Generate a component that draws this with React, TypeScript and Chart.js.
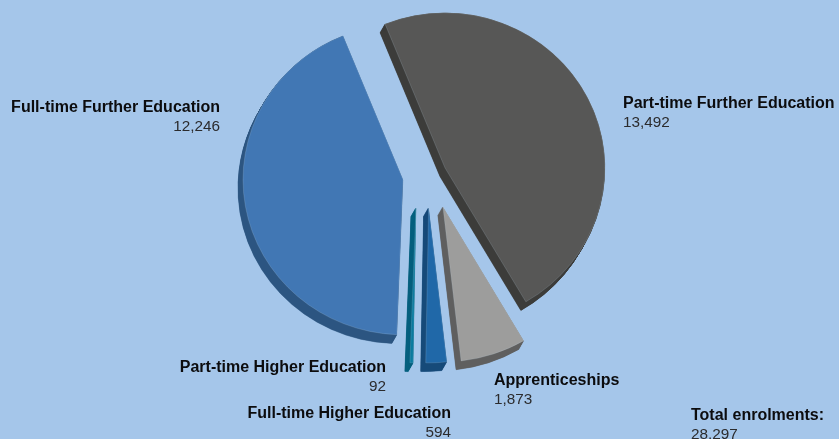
import React, { useEffect, useRef } from "react";
import { Chart, registerables } from "chart.js";

Chart.register(...registerables);

const categories = [
  "Part-time Further Education",
  "Apprenticeships",
  "Full-time Higher Education",
  "Part-time Higher Education",
  "Full-time Further Education",
];
const enrolments = [13492, 1873, 594, 92, 12246];
const totalLabel = "Total enrolments:";
const totalValue = 28297;

const topColors = ["#575756", "#9d9d9c", "#2068a8", "#0a7a9e", "#4177b4"];
const sideColors = ["#3c3c3a", "#5f5f5f", "#164a79", "#055f7e", "#2c5581"];
const explode = [16.7, 34.5, 33.7, 33.7, 27.4];
const nudgeX = [0, 2, -3, -13, 0];
const labelPos: [number, number, CanvasTextAlign][] = [
  [623, 108, "left"],
  [494, 385, "left"],
  [451, 418, "right"],
  [386, 372, "right"],
  [220, 112, "right"],
];
const DEPTH_X = -5;
const DEPTH_Y = 9;
const SQUASH = 0.97;
const FONT = '"Liberation Sans", Arial, sans-serif';

const fmt = (n: number) => n.toLocaleString("en-GB");

const piePlugin = {
  id: "pie3d",
  afterDatasetUpdate(chart: any) {
    const arcs = chart.getDatasetMeta(0).data;
    arcs.forEach((el: any, i: number) => {
      const mid = (el.startAngle + el.endAngle) / 2;
      el.x += Math.cos(mid) * explode[i] + nudgeX[i];
      el.y += Math.sin(mid) * explode[i];
    });
  },
  beforeDatasetDraw(chart: any) {
    const { ctx, chartArea } = chart;
    const cy = (chartArea.top + chartArea.bottom) / 2;
    const arcs = chart.getDatasetMeta(0).data;
    ctx.save();
    ctx.translate(0, cy);
    ctx.scale(1, SQUASH);
    ctx.translate(0, -cy);
    arcs.forEach((el: any, i: number) => {
      ctx.fillStyle = sideColors[i];
      ctx.strokeStyle = sideColors[i];
      ctx.lineWidth = 0.5;
      for (let s = 1; s <= 20; s++) {
        const t = s / 20;
        const x = el.x + DEPTH_X * t;
        const y = el.y + DEPTH_Y * t;
        ctx.beginPath();
        ctx.moveTo(x, y);
        ctx.arc(x, y, el.outerRadius, el.startAngle, el.endAngle);
        ctx.closePath();
        ctx.fill();
        ctx.stroke();
      }
    });
  },
  afterDatasetDraw(chart: any) {
    chart.ctx.restore();
  },
  afterDraw(chart: any) {
    const { ctx } = chart;
    ctx.save();
    ctx.textBaseline = "alphabetic";
    const draw = (label: string, value: string, x: number, y: number, align: CanvasTextAlign) => {
      ctx.textAlign = align;
      ctx.font = `bold 16px ${FONT}`;
      ctx.fillStyle = "#0c0c0e";
      ctx.fillText(label, x, y);
      ctx.font = `15.3px ${FONT}`;
      ctx.fillStyle = "#2b2b2d";
      ctx.fillText(value, x, y + 19);
    };
    categories.forEach((c, i) => {
      const [x, y, a] = labelPos[i];
      draw(c, fmt(enrolments[i]), x, y, a);
    });
    draw(totalLabel, fmt(totalValue), 691, 420, "left");
    ctx.restore();
  },
};

export default function App() {
  const ref = useRef<HTMLCanvasElement | null>(null);
  useEffect(() => {
    const chart = new Chart(ref.current as HTMLCanvasElement, {
      type: "pie",
      data: {
        labels: categories,
        datasets: [
          {
            data: enrolments,
            backgroundColor: topColors,
            borderColor: "rgba(200,220,240,0.3)",
            borderWidth: 0.6,
          },
        ],
      },
      options: {
        responsive: false,
        animation: false,
        rotation: -22,
        radius: 160,
        layout: { padding: { left: 21, bottom: 89 } },
        plugins: { legend: { display: false }, tooltip: { enabled: false } },
      },
      plugins: [piePlugin],
    } as any);
    return () => chart.destroy();
  }, []);
  return (
    <div style={{ position: "fixed", left: 0, top: 0, width: 839, height: 439, background: "#a5c6ea", overflow: "hidden" }}>
      <canvas ref={ref} width={839} height={439} style={{ display: "block", width: 839, height: 439 }} />
    </div>
  );
}
